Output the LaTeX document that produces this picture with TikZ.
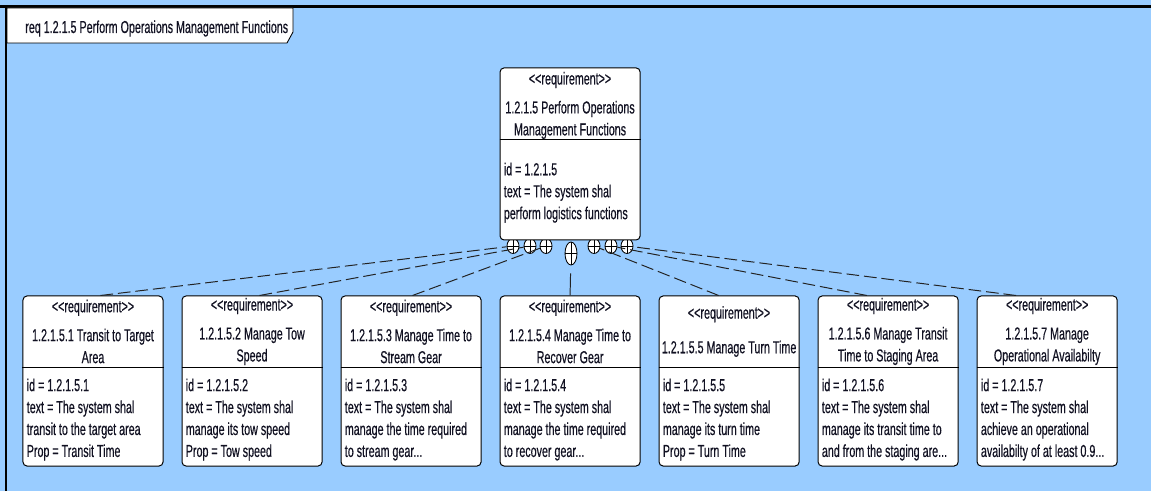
\documentclass[tikz,border=0pt]{standalone}
\usepackage{fontspec}
\setmainfont{Liberation Sans}[FakeStretch=0.62, FakeBold=0.4]
\usetikzlibrary{positioning, shapes.geometric}
\definecolor{diagblue}{HTML}{99CCFF}
\definecolor{linegray}{HTML}{222222}
\definecolor{inktext}{HTML}{111122}
\tikzset{
  reqbox/.style={draw=black, fill=white, rounded corners=0.1cm, line width=0.7pt,
                 minimum width=3.5cm, minimum height=4.25cm, inner sep=0pt},
  reqhead/.style={align=center, inner sep=0pt, text=inktext, font=\fontsize{12.3}{15.6}\selectfont},
  reqbody/.style={anchor=north west, align=left, inner sep=0pt, text=inktext,
                  font=\fontsize{12.3}{15.6}\selectfont},
  contain/.style={ellipse, draw=black, fill=white, line width=0.6pt, inner sep=0pt,
                  minimum width=0.3cm, minimum height=0.375cm,
                  path picture={\draw[line width=0.5pt]
                    (path picture bounding box.north) -- (path picture bounding box.south)
                    (path picture bounding box.west) -- (path picture bounding box.east);}},
  trace/.style={draw=linegray, line width=0.7pt, dash pattern=on 9pt off 3.5pt},
}

\begin{document}
\begin{tikzpicture}[x=0.025cm, y=-0.025cm]
  \useasboundingbox (0,0) rectangle (1151,491);
  \fill[diagblue] (0,0) rectangle (1151,491);
  \draw[line width=2.1pt] (0,6.5) -- (1151,6.5);
  \draw[line width=1.6pt] (6,6.5) -- (6,491);
  % diagram frame tab
  \draw[fill=white, line width=0.6pt] (7,8) -- (293,8) -- (293,32) -- (287,43) -- (7,43) -- cycle;
  \node (title) [anchor=base west, inner sep=0pt, text=inktext, font=\fontsize{12.3}{12}\selectfont] at (25,33)
    {req 1.2.1.5 Perform Operations Management Functions};

  % child requirements
  \node (c1) [reqbox] at (93,381) {};
  \node (c2) [reqbox, right=0.45cm of c1] {};
  \node (c3) [reqbox, right=0.45cm of c2] {};
  \node (c4) [reqbox, right=0.45cm of c3] {};
  \node (c5) [reqbox, right=0.45cm of c4] {};
  \node (c6) [reqbox, right=0.45cm of c5] {};
  \node (c7) [reqbox, right=0.45cm of c6] {};

  \node (h1) [reqhead] at ([yshift=-0.9cm]c1.north) {<{}<requirement>{}>\\[5pt]1.2.1.5.1 Transit to Target\\Area};
  \node (h2) [reqhead] at ([yshift=-0.9cm]c2.north) {<{}<requirement>{}>\\[5pt]1.2.1.5.2 Manage Tow\\Speed};
  \node (h3) [reqhead] at ([yshift=-0.9cm]c3.north) {<{}<requirement>{}>\\[5pt]1.2.1.5.3 Manage Time to\\Stream Gear};
  \node (h4) [reqhead] at ([yshift=-0.9cm]c4.north) {<{}<requirement>{}>\\[5pt]1.2.1.5.4 Manage Time to\\Recover Gear};
  \node (h5) [reqhead] at ([yshift=-0.9cm]c5.north) {<{}<requirement>{}>\\[9pt]1.2.1.5.5 Manage Turn Time};
  \node (h6) [reqhead] at ([yshift=-0.9cm]c6.north) {<{}<requirement>{}>\\[5pt]1.2.1.5.6 Manage Transit\\Time to Staging Area};
  \node (h7) [reqhead] at ([yshift=-0.9cm]c7.north) {<{}<requirement>{}>\\[5pt]1.2.1.5.7 Manage\\Operational Availabilty};

  \node (b1) [reqbody] at ([shift={(0.1cm,-2.07cm)}]c1.north west) {id = 1.2.1.5.1\\text = The system shal\\transit to the target area\\Prop = Transit Time};
  \node (b2) [reqbody] at ([shift={(0.1cm,-2.07cm)}]c2.north west) {id = 1.2.1.5.2\\text = The system shal\\manage its tow speed\\Prop = Tow speed};
  \node (b3) [reqbody] at ([shift={(0.1cm,-2.07cm)}]c3.north west) {id = 1.2.1.5.3\\text = The system shal\\manage the time required\\to stream gear...};
  \node (b4) [reqbody] at ([shift={(0.1cm,-2.07cm)}]c4.north west) {id = 1.2.1.5.4\\text = The system shal\\manage the time required\\to recover gear...};
  \node (b5) [reqbody] at ([shift={(0.1cm,-2.07cm)}]c5.north west) {id = 1.2.1.5.5\\text = The system shal\\manage its turn time\\Prop = Turn Time};
  \node (b6) [reqbody] at ([shift={(0.1cm,-2.07cm)}]c6.north west) {id = 1.2.1.5.6\\text = The system shal\\manage its transit time to\\and from the staging are...};
  \node (b7) [reqbody] at ([shift={(0.1cm,-2.07cm)}]c7.north west) {id = 1.2.1.5.7\\text = The system shal\\achieve an operational\\availabilty of at least 0.9...};

  % containment ends
  \node (p1) [contain] at (513,246) {};
  \node (p2) [contain] at (530,246) {};
  \node (p3) [contain] at (546,246) {};
  \node (p4) [contain, minimum height=0.575cm] at (571,253.5) {};
  \node (p5) [contain] at (594,246) {};
  \node (p6) [contain] at (611,246) {};
  \node (p7) [contain] at (627,246) {};

  \draw[trace] (c1.85) -- (p1);
  \draw[trace] (c2.85) -- (p2);
  \draw[trace] (c3.89) -- (p3);
  \draw[draw=linegray, line width=0.7pt, shorten >=0.2cm] (c4.north) -- (p4);
  \draw[trace] (c5.97) -- (p5);
  \draw[trace] (c6.104) -- (p6);
  \draw[trace] (c7.110) -- (p7);

  % parent requirement
  \node (top) [reqbox, minimum height=4.3cm, above=1.375cm of c4] {};
  \node (ht) [reqhead] at ([yshift=-0.95cm]top.north) {<{}<requirement>{}>\\[5pt]1.2.1.5 Perform Operations\\Management Functions};
  \node (bt) [reqbody] at ([shift={(0.1cm,-2.375cm)}]top.north west) {id = 1.2.1.5\\text = The system shal\\perform logistics functions};

  \foreach \n in {c1,c2,c3,c4,c5,c6,c7,top}
    \draw[line width=0.7pt] ([yshift=-1.8cm]\n.north west) -- ([yshift=-1.8cm]\n.north east);
\end{tikzpicture}
\end{document}
